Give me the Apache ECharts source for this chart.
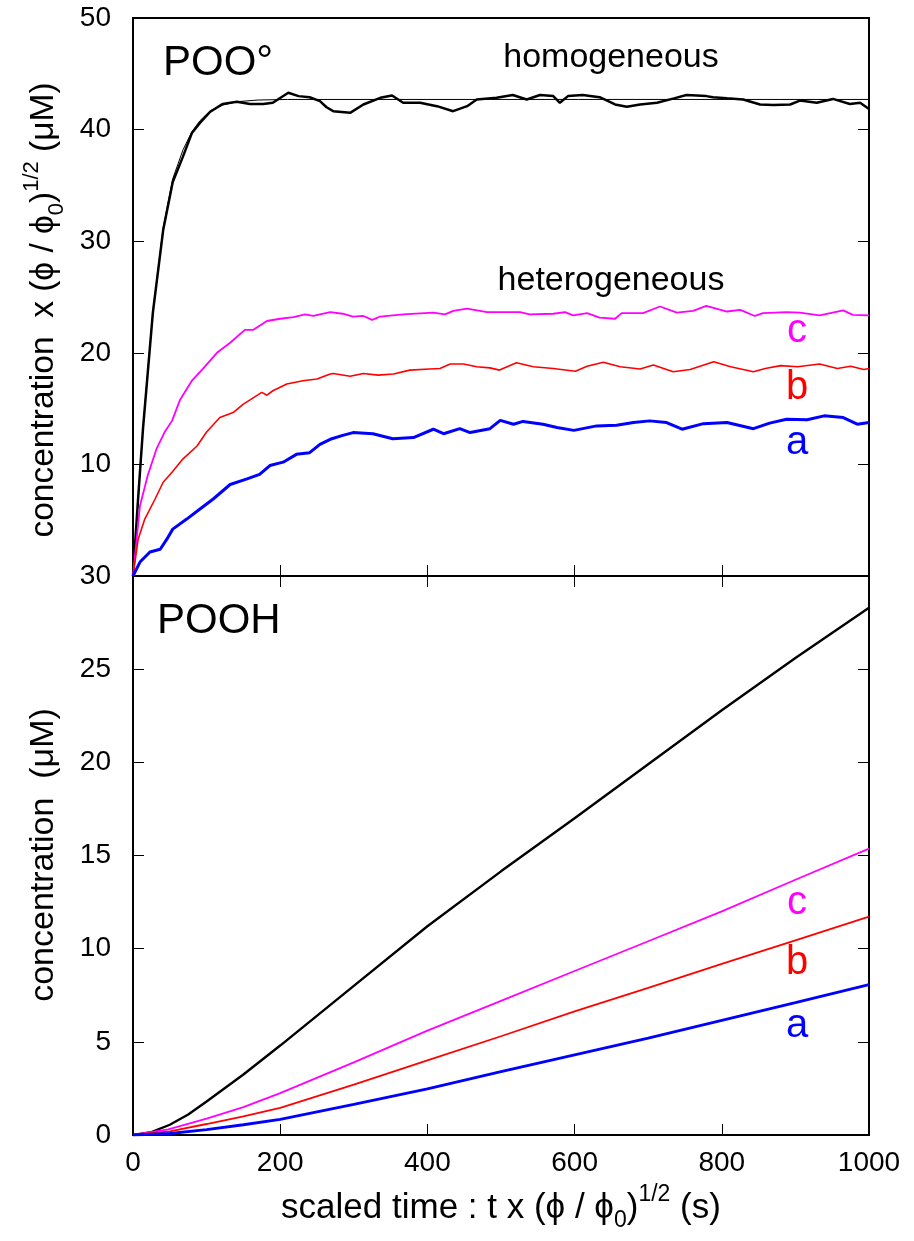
<!DOCTYPE html>
<html>
<head>
<meta charset="utf-8">
<script src="https://cdn.jsdelivr.net/npm/echarts@6/dist/echarts.min.js"></script>
<style>html,body{margin:0;padding:0;background:#fff;}#c{width:914px;height:1241px;}</style>
</head>
<body>
<div id="c"></div>
<script>
// ---------- DATA ----------
// Top panel: POO° (scaled concentration), x = scaled time
var topHomX = [0,7,13.6,27,41,54,68,80,91,105,122,141,159,177,190,211,225,240,254,263,272,295,313,336,352,367,390,413,435,454,467,494,516,535,553,571,580,591,611,634,655,671,689,712,735,752,779,788,807,829,852,870,893,906,929,951,974,988,1000];
var topHomY = [0,7,13.2,23.6,31,35.3,37.6,39.7,40.6,41.6,42.3,42.5,42.3,42.3,42.4,43.3,43.0,42.9,42.55,42.0,41.65,41.5,42.25,42.85,43.05,42.4,42.4,42.1,41.65,42.1,42.7,42.85,43.1,42.7,43.1,43.0,42.4,43.0,43.1,42.9,42.25,42.05,42.25,42.4,42.8,43.1,43.0,42.9,42.8,42.7,42.25,42.2,42.25,42.6,42.4,42.75,42.3,42.4,41.85];
var topDetX = [0,13.6,27,41,54,68,80,91,105,122,141,170,210,1000];
var topDetY = [0,13.3,23.7,31.2,35.6,38.2,39.8,40.8,41.7,42.2,42.5,42.65,42.7,42.7];
var topCX = [0,9.5,20,32,43,53,64,80,94,114,132,152,163,182,200,218,234,245,254,268,285,299,313,325,336,367,408,424,435,454,481,526,539,571,587,598,617,634,655,664,693,716,739,761,779,807,825,845,856,888,906,933,965,978,1000];
var topCY = [0,6.3,9.0,11.4,12.9,13.9,15.8,17.5,18.5,20.0,20.9,22.05,22.05,22.85,23.05,23.2,23.45,23.3,23.45,23.65,23.5,23.25,23.3,22.95,23.25,23.45,23.6,23.45,23.75,23.95,23.65,23.65,23.45,23.5,23.65,23.35,23.55,23.15,23.05,23.55,23.55,24.15,23.6,23.75,24.2,23.7,23.85,23.3,23.55,23.65,23.6,23.35,23.8,23.4,23.35];
var topBX = [0,7,16,30,41,53,68,87,100,118,136,150,175,182,190,209,231,250,268,272,295,313,333,354,376,403,417,431,449,467,485,498,521,544,571,601,617,639,662,689,707,734,757,789,812,843,859,880,903,933,957,975,993,1000];
var topBY = [0,3.3,5.1,6.9,8.4,9.3,10.5,11.65,12.9,14.2,14.65,15.4,16.45,16.2,16.6,17.2,17.5,17.65,18.1,18.15,17.9,18.15,18.0,18.1,18.45,18.55,18.6,19.0,19.0,18.75,18.65,18.45,19.1,18.75,18.6,18.35,18.8,19.15,18.75,18.55,18.9,18.3,18.5,19.2,18.75,18.3,18.6,18.85,18.75,19.0,18.6,18.8,18.5,18.6];
var topAX = [0,9.5,23,37,46,54,73,91,109,132,155,172,186,204,222,240,254,268,285,299,326,353,381,408,422,444,458,485,499,517,530,557,576,599,630,657,680,702,725,746,775,807,843,865,888,916,939,965,984,1000];
var topAY = [0,1.25,2.15,2.4,3.3,4.2,5.1,6.0,6.9,8.2,8.7,9.1,9.9,10.2,10.9,11.05,11.8,12.25,12.6,12.85,12.75,12.3,12.4,13.15,12.75,13.2,12.85,13.2,13.95,13.6,13.85,13.6,13.3,13.05,13.45,13.5,13.75,13.9,13.75,13.15,13.65,13.75,13.2,13.7,14.05,14.0,14.35,14.2,13.6,13.75];

// Bottom panel: POOH concentration
var botHomX = [0,25,50,75,100,150,200,300,400,500,600,700,800,900,1000];
var botHomY = [0,0.15,0.55,1.1,1.8,3.25,4.8,8.0,11.2,14.15,17.0,19.9,22.8,25.6,28.3];
var botCX = [0,48,100,150,200,300,400,500,600,700,800,900,1000];
var botCY = [0,0.3,0.88,1.5,2.25,3.9,5.6,7.2,8.8,10.4,12.0,13.7,15.37];
var botBX = [0,50,100,150,200,300,400,500,600,700,800,900,1000];
var botBY = [0,0.2,0.59,1.0,1.46,2.7,4.0,5.3,6.64,7.9,9.18,10.45,11.72];
var botAX = [0,50,100,150,200,300,400,500,600,700,800,900,1000];
var botAY = [0,0.08,0.29,0.55,0.84,1.65,2.48,3.4,4.3,5.2,6.15,7.1,8.07];

var xTicks = [0,200,400,600,800,1000];
var topYTicks = [10,20,30,40,50];
var botYTicks = [0,5,10,15,20,25,30];

// ---------- CHART ----------
function pairs(xs, ys){ return xs.map(function(x,i){ return [x, ys[i]]; }); }
var FONT = '"Liberation Sans", Arial, Helvetica, sans-serif';
var chart = echarts.init(document.getElementById('c'), null, {renderer:'canvas'});

function xAx(grid, pos, labels){
  return {type:'value', gridIndex:grid, position:pos, min:0, max:1000, interval:200,
    axisLine:{show:true, onZero:false, lineStyle:{color:'#000', width:2}},
    axisTick:{show:true, inside:true, length:11, lineStyle:{color:'#000', width:1}},
    axisLabel:{show:labels, color:'#000', fontFamily:FONT, fontSize:28, margin:14,
      formatter:function(v){ return xTicks.indexOf(v) >= 0 ? String(v) : ''; }},
    splitLine:{show:false}};
}
function yAx(grid, pos, max, interval, labels, ticks){
  return {type:'value', gridIndex:grid, position:pos, min:0, max:max, interval:interval,
    axisLine:{show:true, onZero:false, lineStyle:{color:'#000', width:2}},
    axisTick:{show:true, inside:true, length:11, lineStyle:{color:'#000', width:1}},
    axisLabel:{show:labels, color:'#000', fontFamily:FONT, fontSize:28, margin:22,
      formatter:function(v){ return ticks.indexOf(v) >= 0 ? String(v) : ''; }},
    splitLine:{show:false}};
}
function line(xi, yi, xs, ys, color, w){
  return {type:'line', xAxisIndex:xi, yAxisIndex:yi, data:pairs(xs, ys), showSymbol:false,
    symbol:'none', smooth:false, lineStyle:{color:color, width:w}, silent:true};
}

function richAxis(fs){
  return {
    n:{fontSize:fs, fontFamily:FONT, color:'#000', lineHeight:Math.round(fs*1.4)},
    sub:{fontSize:Math.round(fs*0.66), fontFamily:FONT, color:'#000', verticalAlign:'bottom', lineHeight:Math.round(fs*0.66)},
    sup:{fontSize:Math.round(fs*0.66), fontFamily:FONT, color:'#000', verticalAlign:'top', lineHeight:Math.round(fs*0.66)}
  };
}
function txt(x, y, s, size, color, align){
  return {type:'text', x:x, y:y, silent:true,
    style:{text:s, fill:color, font:size+'px '+FONT, align:align||'left', verticalAlign:'middle'}};
}

chart.setOption({
  animation:false,
  backgroundColor:'#fff',
  grid:[
    {left:133, top:18, width:736, height:558, show:true, borderColor:'#000', borderWidth:2, backgroundColor:'transparent'},
    {left:133, top:576, width:736, height:559, show:true, borderColor:'#000', borderWidth:2, backgroundColor:'transparent'}
  ],
  xAxis:[ xAx(0,'bottom',false), xAx(1,'bottom',true), xAx(1,'top',false) ],
  yAxis:[ yAx(0,'left',50,10,true,topYTicks), yAx(0,'right',50,10,false,topYTicks),
          yAx(1,'left',30,5,true,botYTicks), yAx(1,'right',30,5,false,botYTicks) ],
  series:[
    line(0,0,topDetX,topDetY,'#000',1),
    line(0,0,topHomX,topHomY,'#000',2.5),
    line(0,0,topCX,topCY,'#ff00ff',1.8),
    line(0,0,topBX,topBY,'#ff0000',1.6),
    line(0,0,topAX,topAY,'#0000ff',3),
    line(1,2,botHomX,botHomY,'#000',2.4),
    line(1,2,botCX,botCY,'#ff00ff',1.8),
    line(1,2,botBX,botBY,'#ff0000',1.8),
    line(1,2,botAX,botAY,'#0000ff',2.8)
  ],
  graphic:[
    txt(163, 63, 'POO°', 42, '#000'),
    txt(611, 58, 'homogeneous', 34, '#000', 'center'),
    txt(611, 281, 'heterogeneous', 34, '#000', 'center'),
    txt(797, 331, 'c', 40, '#ff00ff', 'center'),
    txt(797, 388, 'b', 40, '#ff0000', 'center'),
    txt(797, 443, 'a', 40, '#0000ff', 'center'),
    txt(157, 621, 'POOH', 42, '#000'),
    txt(797, 903, 'c', 40, '#ff00ff', 'center'),
    txt(797, 963, 'b', 40, '#ff0000', 'center'),
    txt(797, 1026, 'a', 40, '#0000ff', 'center'),
    {type:'text', x:44, y:310, rotation:Math.PI/2, silent:true,
      style:{text:'{n|concentration  x (ϕ / ϕ}{sub|0}{n|)}{sup|1/2}{n| (μM)}', rich:richAxis(33.5), align:'center', verticalAlign:'middle'}},
    {type:'text', x:44, y:855, rotation:Math.PI/2, silent:true,
      style:{text:'{n|concentration  (μM)}', rich:richAxis(34), align:'center', verticalAlign:'middle'}},
    {type:'text', x:501, y:1208, silent:true,
      style:{text:'{n|scaled time : t x (ϕ / ϕ}{sub|0}{n|)}{sup|1/2}{n| (s)}', rich:richAxis(35), align:'center', verticalAlign:'middle'}}
  ]
});
</script>
</body>
</html>
